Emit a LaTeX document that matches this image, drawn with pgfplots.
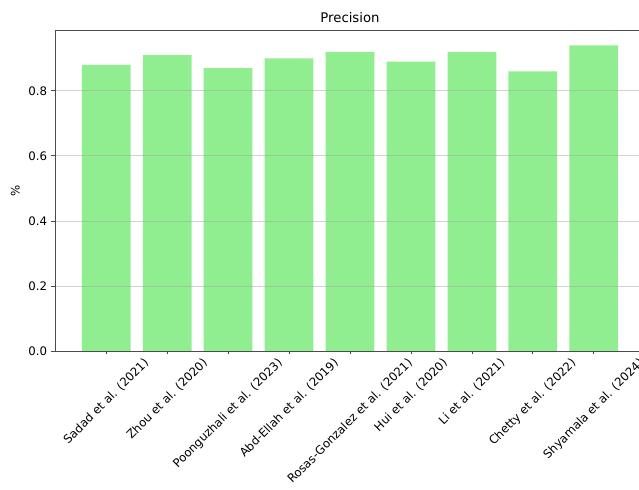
\documentclass[border=0pt]{standalone}
\usepackage{fontspec}
\setmainfont{DejaVu Sans}
\usepackage{graphicx}
\usepackage{pgfplots}
\pgfplotsset{compat=1.18}

\definecolor{barcolor}{HTML}{90EE90}

\begin{document}
\begin{tikzpicture}
\begin{axis}[
  scale only axis,
  width=472pt, height=256.8pt,
  xmin=-0.84, xmax=8.84,
  ymin=0, ymax=0.987,
  axis on top,
  /pgf/number format/assume math mode=true,
  font=\fontsize{9.4pt}{11pt}\selectfont,
  title={Precision},
  title style={font=\fontsize{10.6pt}{12pt}\selectfont, yshift=-3.5pt},
  ylabel={\%},
  ylabel style={yshift=0pt},
  ytick={0,0.2,0.4,0.6,0.8},
  yticklabel style={/pgf/number format/fixed, /pgf/number format/fixed zerofill, /pgf/number format/precision=1},
  xtick={0,...,8},
  xticklabels={
    \rotatebox{45}{Sadad et al. (2021)},
    \rotatebox{45}{Zhou et al. (2020)},
    \rotatebox{45}{Poonguzhali et al. (2023)},
    \rotatebox{45}{Abd-Ellah et al. (2019)},
    \rotatebox{45}{Rosas-Gonzalez et al. (2021)},
    \rotatebox{45}{Hui et al. (2020)},
    \rotatebox{45}{Li et al. (2021)},
    \rotatebox{45}{Chetty et al. (2022)},
    \rotatebox{45}{Shyamala et al. (2024)}},
  xticklabel style={anchor=north, inner sep=1pt, yshift=-1pt},
  tick align=outside,
  major tick length=2.8pt,
  tick style={black!70, line width=0.6pt},
  axis line style={black!70, line width=0.6pt},
  xtick pos=bottom, ytick pos=left,
  ymajorgrids,
  major grid style={gray!70, line width=0.6pt, opacity=0.5},
]
\addplot[ybar, bar width=0.8, fill=barcolor, draw=none, bar shift=0pt]
  coordinates {
    (0,0.88) (1,0.91) (2,0.87) (3,0.90) (4,0.92)
    (5,0.89) (6,0.92) (7,0.86) (8,0.94)
  };
\end{axis}
\pgfresetboundingbox
\path[use as bounding box]
  ([xshift=-44pt, yshift=-111.2pt]current axis.south west)
  rectangle ([xshift=-4.8pt, yshift=24pt]current axis.north east);
\end{tikzpicture}
\end{document}
